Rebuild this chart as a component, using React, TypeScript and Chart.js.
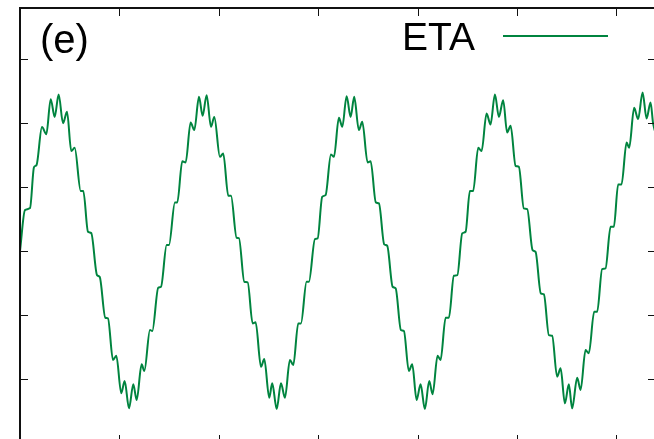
import React, { useEffect, useRef } from "react";
import { Chart, registerables } from "chart.js";

Chart.register(...registerables);

const seriesLabel = "ETA";
const panelLabel = "(e)";
const lineColor = "#00843f";

const xTicks = [0, 1, 2, 3, 4, 5, 6];
const yTicks = [-3, -2, -1, 0, 1, 2, 3];

const etaX = [
  0.0, 0.05, 0.101, 0.141, 0.166, 0.221, 0.265, 0.309, 0.349, 0.389, 0.433, 0.473, 0.516, 0.55,
  0.611, 0.637, 0.684, 0.717, 0.775, 0.802, 0.858, 0.885, 0.936, 0.969, 1.019, 1.053, 1.097,
  1.14, 1.174, 1.224, 1.251, 1.308, 1.331, 1.391, 1.419, 1.476, 1.499, 1.559, 1.583, 1.633,
  1.667, 1.717, 1.754, 1.801, 1.838, 1.878, 1.922, 1.955, 2.012, 2.045, 2.096, 2.123, 2.18,
  2.203, 2.257, 2.291, 2.341, 2.371, 2.425, 2.458, 2.508, 2.538, 2.583, 2.626, 2.666, 2.716,
  2.75, 2.8, 2.827, 2.884, 2.907, 2.968, 2.995, 3.041, 3.075, 3.129, 3.159, 3.209, 3.243,
  3.287, 3.327, 3.363, 3.41, 3.444, 3.498, 3.528, 3.581, 3.612, 3.665, 3.695, 3.75, 3.78,
  3.833, 3.863, 3.913, 3.947, 3.991, 4.031, 4.074, 4.118, 4.152, 4.202, 4.232, 4.283, 4.316,
  4.366, 4.401, 4.45, 4.484, 4.527, 4.56, 4.611, 4.645, 4.695, 4.735, 4.779, 4.819, 4.862,
  4.902, 4.937, 4.987, 5.02, 5.07, 5.104, 5.158, 5.188, 5.241, 5.272, 5.322, 5.355, 5.405,
  5.44, 5.483, 5.523, 5.556, 5.607, 5.641, 5.691, 5.724, 5.778, 5.808, 5.858, 5.892, 5.943,
  5.976, 6.019, 6.053, 6.104, 6.13, 6.18, 6.22, 6.265, 6.305, 6.345, 6.371, 6.42,
];

const etaY = [
  0.0, 0.641, 0.672, 1.313, 1.344, 1.938, 1.828, 2.375, 2.098, 2.448, 2.0, 2.177, 1.563, 1.614,
  0.938, 0.938, 0.302, 0.281, -0.375, -0.402, -1.042, -1.052, -1.703, -1.636, -2.223, -2.031,
  -2.458, -2.083, -2.328, -1.77, -1.875, -1.234, -1.25, -0.573, -0.558, 0.094, 0.094, 0.761,
  0.761, 1.406, 1.386, 2.011, 1.891, 2.411, 2.114, 2.438, 1.942, 2.098, 1.473, 1.527, 0.864,
  0.864, 0.208, 0.203, -0.48, -0.489, -1.13, -1.114, -1.808, -1.688, -2.292, -2.067, -2.469,
  -2.067, -2.292, -1.703, -1.781, -1.13, -1.13, -0.48, -0.48, 0.188, 0.198, 0.848, 0.875,
  1.511, 1.473, 2.083, 1.942, 2.422, 2.098, 2.411, 1.891, 2.02, 1.386, 1.406, 0.761, 0.745,
  0.105, 0.083, -0.558, -0.583, -1.234, -1.25, -1.875, -1.77, -2.328, -2.083, -2.469, -2.031,
  -2.239, -1.636, -1.703, -1.042, -1.042, -0.386, -0.375, 0.277, 0.302, 0.938, 0.938, 1.614,
  1.563, 2.152, 1.98, 2.448, 2.098, 2.359, 1.855, 1.958, 1.333, 1.317, 0.667, 0.656, 0.016,
  -0.011, -0.661, -0.677, -1.313, -1.323, -1.964, -1.833, -2.38, -2.083, -2.458, -1.98, -2.172,
  -1.547, -1.598, -0.948, -0.948, -0.281, -0.27, 0.38, 0.38, 1.042, 1.042, 1.698, 1.614, 2.239,
  2.063, 2.48, 2.073, 2.323, 1.995, 1.75,
];

const X_MIN = 0;
const X_MAX = 6.4;
const Y_MIN = -3;
const Y_MAX = 3.8;

const framePlugin = {
  id: "gnuplotFrame",
  afterDraw(chart: any) {
    const { ctx, chartArea } = chart;
    const { left, right, top, bottom } = chartArea;
    const xs = chart.scales.x;
    const ys = chart.scales.y;
    ctx.save();
    ctx.strokeStyle = "#111";
    ctx.lineWidth = 1;
    const tl = 8;
    ctx.beginPath();
    xTicks.forEach((t) => {
      const px = Math.round(xs.getPixelForValue(t)) + 0.5;
      ctx.moveTo(px, bottom);
      ctx.lineTo(px, bottom - tl);
      ctx.moveTo(px, top);
      ctx.lineTo(px, top + tl);
    });
    yTicks.forEach((t) => {
      const py = Math.round(ys.getPixelForValue(t)) + 0.5;
      ctx.moveTo(left, py);
      ctx.lineTo(left + tl, py);
      ctx.moveTo(right, py);
      ctx.lineTo(right - tl, py);
    });
    ctx.stroke();
    ctx.lineWidth = 2;
    ctx.strokeStyle = "#111";
    ctx.strokeRect(left, top, right - left, bottom - top);

    ctx.fillStyle = "#000";
    ctx.textBaseline = "alphabetic";
    ctx.font = '40px "Liberation Sans", Arial, sans-serif';
    ctx.fillText(panelLabel, 40, 53);
    ctx.font = '39px "Liberation Sans", Arial, sans-serif';
    ctx.fillText(seriesLabel, 402, 50);
    ctx.strokeStyle = lineColor;
    ctx.lineWidth = 2;
    ctx.beginPath();
    ctx.moveTo(503, 36);
    ctx.lineTo(608, 36);
    ctx.stroke();
    ctx.restore();
  },
};

export default function App() {
  const canvasRef = useRef<HTMLCanvasElement | null>(null);

  useEffect(() => {
    const canvas = canvasRef.current;
    if (!canvas) return;
    const points = etaX.map((x, i) => ({ x, y: etaY[i] }));
    const chart = new Chart(canvas, {
      type: "line",
      data: {
        datasets: [
          {
            label: seriesLabel,
            data: points,
            borderColor: lineColor,
            borderWidth: 2,
            pointRadius: 0,
            fill: false,
            cubicInterpolationMode: "monotone",
          },
        ],
      },
      options: {
        animation: false,
        responsive: false,
        devicePixelRatio: 1,
        parsing: false,
        layout: { padding: { left: 20, top: 8, right: 44, bottom: 57 } },
        plugins: { legend: { display: false }, tooltip: { enabled: false }, title: { display: false } },
        scales: {
          x: { type: "linear", min: X_MIN, max: X_MAX, display: false },
          y: { type: "linear", min: Y_MIN, max: Y_MAX, display: false },
        },
      },
      plugins: [framePlugin],
    });
    return () => chart.destroy();
  }, []);

  return (
    <div
      style={{
        position: "fixed",
        left: 0,
        top: 0,
        width: 654,
        height: 439,
        overflow: "hidden",
        background: "#fff",
      }}
    >
      <canvas
        ref={canvasRef}
        width={700}
        height={500}
        style={{ position: "absolute", left: 0, top: 0, width: 700, height: 500 }}
      />
    </div>
  );
}
